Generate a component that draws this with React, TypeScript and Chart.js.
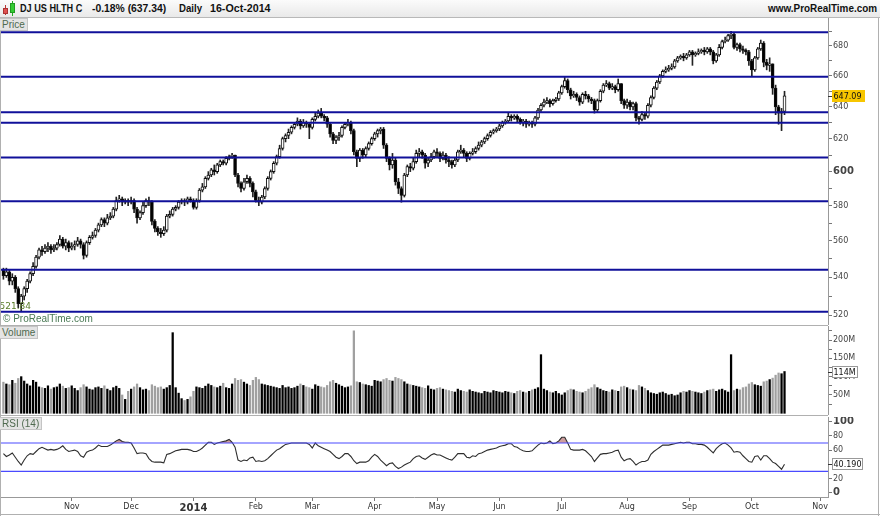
import React, { useEffect, useRef } from 'react';
import { Chart, registerables } from 'chart.js';

Chart.register(...registerables);

// ---------- DATA ----------
const opens = [544,541,543,538,540,534,526,530,534,538, 542,546,551,555,554,556,557,555,556,558, 561,557,559,556,557,558,560,558,552,559, 562,563,566,569,572,570,573,574,578,583, 584,582,583,582,583,578,573,576,580,583, 582,571,567,565,564,566,574,575,578,579, 582,583,582,584,583,579,583,589,591,596, 598,601,600,604,606,605,608,609,610,598, 593,590,594,596,593,588,583,582,585,590, 596,600,605,609,614,620,622,624,627,629, 631,628,630,629,627,632,634,636,634,633, 629,623,619,621,622,627,629,630,625,612, 608,613,610,614,617,620,623,625,626,616, 608,604,607,594,590,586,598,603,602,606, 611,612,610,605,607,609,612,611,608,610, 607,606,604,607,612,613,611,608,611,612, 614,616,618,620,622,624,625,626,628,630, 631,634,633,634,632,630,631,629,630,629, 633,638,641,643,644,642,644,645,649,653, 657,651,647,648,646,643,648,647,645,644, 638,644,650,654,655,652,653,651,655,644, 641,643,640,642,633,632,635,634,641,646, 652,656,660,663,664,665,666,670,672,673, 672,674,676,674,675,676,677,676,678,676, 670,674,679,683,684,687,688,679,681,678, 677,676,670,664,672,678,682,669,667,668, 652,640,636,637];
const highs = [545,545,544,542,541,535,531,535,539,543, 548,552,556,557,558,559,558,558,559,563, 562,561,560,559,560,562,561,559,560,563, 565,567,570,573,573,575,576,579,585,586, 585,584,584,585,584,579,577,582,584,585, 583,572,568,567,568,575,577,579,580,583, 584,584,585,585,584,584,590,593,597,600, 602,604,605,607,607,609,610,611,610,599, 594,596,598,597,594,589,585,586,591,597, 601,606,610,616,621,623,626,628,630,633, 632,632,631,630,633,636,638,639,635,634, 630,624,622,624,628,630,632,631,626,613, 614,614,615,618,621,624,626,627,627,617, 609,611,608,596,591,599,604,605,608,613, 614,613,611,608,611,613,614,612,612,611, 609,607,608,613,616,614,612,612,614,615, 618,619,621,623,625,626,627,629,631,632, 636,635,635,635,633,632,632,631,631,634, 639,642,645,646,645,645,646,650,654,659, 658,652,650,649,647,649,650,648,646,645, 645,651,655,657,656,655,654,658,655,645, 645,644,643,643,634,637,636,642,647,653, 657,661,664,666,667,668,671,673,674,675, 675,677,677,676,678,678,679,679,679,677, 675,681,684,686,688,690,689,682,682,680, 678,677,671,673,679,684,683,671,672,668, 654,641,639,650];
const lows = [539,540,536,536,532,524,521.84,528,532,537, 541,545,550,552,553,554,553,554,555,557, 556,555,554,555,555,557,556,550,551,558, 561,562,565,568,568,569,572,573,577,582, 580,581,580,581,576,570,572,575,579,580, 569,565,563,562,563,565,573,574,577,578, 581,580,581,582,578,578,582,588,590,595, 597,598,599,603,604,604,607,608,597,591, 588,589,593,591,585,582,580,581,584,589, 595,599,604,608,613,618,620,623,626,628, 626,627,627,620,626,631,633,633,631,627, 621,617,617,619,621,626,628,623,610,603, 606,608,609,613,616,619,621,623,614,606, 601,602,592,587,582,585,597,600,601,605, 609,608,602,603,606,608,609,606,607,605, 603,602,603,606,611,609,606,607,610,611, 613,615,617,619,621,623,624,625,627,629, 630,631,632,630,629,628,627,628,627,628, 632,637,640,642,640,641,643,644,648,652, 649,645,646,644,641,642,645,643,642,636, 637,643,649,653,651,651,649,650,642,639, 639,638,638,631,629,631,632,633,640,645, 651,655,659,662,663,664,665,669,671,670, 671,673,667,673,674,675,674,675,674,668, 669,673,678,682,683,685,678,677,676,675, 674,667,660,663,671,677,666,664,663,648, 635,629,625,635];
const closes = [541,543,538,540,534,526,530,534,538,542, 546,551,555,554,556,557,555,556,558,561, 557,559,556,557,558,560,558,552,559,562, 563,566,569,572,570,573,574,578,583,584, 582,583,582,583,578,573,576,580,583,582, 571,567,565,564,566,574,575,578,579,582, 583,582,584,583,579,583,589,591,596,598, 601,600,604,606,605,608,609,610,598,593, 590,594,596,593,588,583,582,585,590,596, 600,605,609,614,620,622,624,627,629,631, 628,630,629,627,632,634,636,634,633,629, 623,619,621,622,627,629,630,625,612,608, 613,610,614,617,620,623,625,626,616,608, 604,607,594,590,586,598,603,602,606,611, 612,610,605,607,609,612,611,608,610,607, 606,604,607,612,613,611,608,611,612,614, 616,618,620,622,624,625,626,628,630,631, 634,633,634,632,630,631,629,630,629,633, 638,641,643,644,642,644,645,649,653,657, 651,647,648,646,643,648,647,645,644,638, 644,650,654,655,652,653,651,655,644,641, 643,640,642,633,632,635,634,641,646,652, 656,660,663,664,665,666,670,672,673,672, 674,676,674,675,676,677,676,678,676,670, 674,679,683,684,687,688,679,681,678,677, 676,670,664,672,678,682,669,667,668,652, 640,636,637,647.09];
// volume in millions
const volumes = [85,80,78,90,82,95,100,88,80,75, 90,85,72,70,68,75,66,70,72,80, 74,68,70,75,68,62,70,78,72,66, 64,70,72,68,75,66,62,70,74,68, 50,38,60,66,72,80,70,64,66,62, 78,74,70,72,66,70,76,220,70,55, 40,35,38,45,60,72,70,68,74,80, 76,72,70,74,82,70,68,80,95,90, 92,85,80,76,90,98,92,80,78,76, 74,72,70,68,76,70,72,68,70,74, 80,76,72,70,66,78,74,72,70,76, 86,90,82,78,74,70,72,75,225,86, 84,80,78,76,74,90,88,86,92,95, 90,88,98,95,92,86,80,78,76,74, 72,70,68,75,66,64,68,70,66,64, 62,60,58,66,62,60,58,64,60,58, 56,54,60,58,56,62,60,58,56,60, 58,56,54,60,62,58,56,60,64,66, 70,160,66,62,58,56,60,54,50,56, 62,66,64,60,58,56,60,66,70,78, 70,66,62,60,58,64,62,60,72,74, 70,66,64,62,76,72,68,62,56,54, 52,56,58,54,50,52,48,50,56,60, 58,62,60,58,56,54,58,62,64,66, 60,64,66,62,58,160,62,66,64,70, 72,80,84,78,76,74,86,88,92,96, 104,110,108,114];
const rsiValues = [55,51,53,56,50,44,39,46,52,55, 54,58,62,64,62,60,61,60,61,63, 66,61,58,59,60,58,52,50,57,59, 60,63,67,65,65,65,67,70,73,75, 72,71,71,70,63,55,56,56,55,48, 44,43,43,43,42,54,55,57,59,60, 61,61,61,60,58,58,60,63,67,71, 71,68,70,71,72,73,75,71,64,46, 44,46,45,49,50,44,45,44,45,48, 52,56,60,62,65,68,69,70,70,70, 70,70,70,68,63,70,66,64,62,60, 58,54,50,48,51,55,55,51,45,41, 43,43,43,45,50,54,51,46,42,38, 41,42,37,34,36,39,41,43,48,51, 52,49,47,50,53,55,53,53,51,49, 47,46,50,55,55,55,50,49,52,51, 55,56,58,60,61,62,63,65,66,67, 69,69,65,64,61,59,58,58,59,63, 67,70,69,70,73,69,70,73,78,78, 70,61,60,60,60,61,59,55,51,44, 49,54,55,55,56,57,59,60,50,45, 47,48,44,39,42,44,44,46,54,58, 61,64,67,67,67,68,69,70,71,70, 71,71,69,69,68,68,67,64,60,56, 62,66,69,70,67,63,57,58,57,52, 48,44,43,51,52,46,52,52,48,43, 41,37,33,40.19];

const levels = [689.4, 659.5, 636.5, 630, 608.5, 582.5, 544.1, 521.84];
const rsiLevels = [70, 30];
const monthTickIndex = [23, 43, 64, 85, 104, 125, 146, 167, 188, 210, 231, 252, 275];
const monthLabels = ['Nov', 'Dec', '2014', 'Feb', 'Mar', 'Apr', 'May', 'Jun', 'Jul', 'Aug', 'Sep', 'Oct', 'Nov'];
const priceTicks = [520, 530, 540, 550, 560, 570, 580, 590, 600, 610, 620, 630, 640, 650, 660, 670, 680, 690];
const volumeTicks = [25, 50, 75, 100, 125, 150, 175, 200, 225];
const rsiTicks = [0, 20, 40, 60, 80, 100];

// ---------- STYLE ----------
const FONT = 'DejaVu Sans';
const X_MIN = -1.145;
const X_MAX = 277.64;
const AXIS_W = 52;
const TICK_COLOR = '#444';
const LINE_GRAY = '#999';

function xAxis(show: boolean): any {
  return {
    type: 'linear',
    min: X_MIN,
    max: X_MAX,
    offset: false,
    display: show,
    afterBuildTicks: (s: any) => { s.ticks = monthTickIndex.map((v) => ({ value: v })); },
    afterFit: (s: any) => {
      s.paddingLeft = 0; s.paddingRight = 0;
      s.height = show ? 18 : 0;
    },
    ticks: {
      autoSkip: false,
      maxRotation: 0,
      padding: 1,
      color: '#333',
      callback: (v: number) => {
        const k = monthTickIndex.indexOf(v);
        return k >= 0 ? monthLabels[k] : '';
      },
      font: (ctx: any) => (ctx.tick && ctx.tick.value === 64)
        ? { family: FONT, size: 10, weight: 'bold' }
        : { family: FONT, size: 8 },
    },
    grid: { display: true, drawOnChartArea: false, drawTicks: true, tickLength: 4, color: '#777', offset: false },
    border: { display: true, color: LINE_GRAY },
  };
}

function yAxis(type: string, min: number, max: number, tickVals: number[], label: (v: number) => string, boldVals: number[]): any {
  return {
    type,
    position: 'right',
    min,
    max,
    afterBuildTicks: (s: any) => { s.ticks = tickVals.filter((v) => v >= min && v <= max).map((v) => ({ value: v })); },
    afterFit: (s: any) => { s.width = AXIS_W; s.paddingTop = 0; s.paddingBottom = 0; },
    ticks: {
      autoSkip: false,
      padding: 1,
      color: TICK_COLOR,
      callback: (v: number) => label(v),
      font: (ctx: any) => (ctx.tick && boldVals.indexOf(ctx.tick.value) >= 0)
        ? { family: FONT, size: 10, weight: 'bold' }
        : { family: FONT, size: 8 },
    },
    grid: { display: true, drawOnChartArea: false, drawTicks: true, tickLength: 4, color: '#777' },
    border: { display: true, color: LINE_GRAY },
  };
}

const baseOptions: any = {
  animation: false,
  responsive: false,
  maintainAspectRatio: false,
  events: [],
  layout: { padding: 0 },
  plugins: { legend: { display: false }, tooltip: { enabled: false }, title: { display: false } },
};

function valueBox(ctx: CanvasRenderingContext2D, x: number, y: number, w: number, text: string, fill: string, stroke: string | null) {
  const yy = Math.round(y);
  ctx.save();
  ctx.fillStyle = fill;
  ctx.fillRect(x, yy - 6, w, 12);
  if (stroke) {
    ctx.strokeStyle = stroke;
    ctx.lineWidth = 1;
    ctx.strokeRect(x + 0.5, yy - 5.5, w - 1, 11);
  }
  ctx.strokeStyle = '#333';
  ctx.beginPath();
  ctx.moveTo(828, yy + 0.5);
  ctx.lineTo(832, yy + 0.5);
  ctx.stroke();
  ctx.fillStyle = '#111';
  ctx.font = `8px "${FONT}"`;
  ctx.textBaseline = 'middle';
  ctx.textAlign = 'left';
  ctx.fillText(text, x + 1.5, yy + 0.5);
  ctx.restore();
}

export default function App() {
  const priceRef = useRef<HTMLCanvasElement>(null);
  const volRef = useRef<HTMLCanvasElement>(null);
  const rsiRef = useRef<HTMLCanvasElement>(null);

  useEffect(() => {
    const n = closes.length;
    const last = n - 1;

    // ---- price ----
    const bodyColors = closes.map((c, i) => (c >= opens[i] ? '#ffffff' : '#000000'));
    const priceDecor = {
      id: 'priceDecor',
      afterDraw(chart: any) {
        const ctx = chart.ctx;
        const ys = chart.scales.y;
        const xs = chart.scales.x;
        valueBox(ctx, 832, ys.getPixelForValue(closes[last]), 33, closes[last].toFixed(2), '#f7c600', null);
        let li = 0;
        lows.forEach((v, i) => { if (v < lows[li]) li = i; });
        ctx.save();
        ctx.fillStyle = '#5a7d2a';
        ctx.font = `9px "${FONT}"`;
        ctx.textAlign = 'center';
        ctx.textBaseline = 'middle';
        ctx.fillText(lows[li].toFixed(2), xs.getPixelForValue(li) - 6, ys.getPixelForValue(lows[li]) - 5);
        ctx.restore();
      },
    };
    const priceChart = new Chart(priceRef.current!, {
      type: 'bar',
      data: {
        datasets: [
          ...levels.map((lv) => ({
            type: 'line' as const,
            data: [{ x: X_MIN, y: lv }, { x: X_MAX, y: lv }],
            borderColor: '#10109a',
            borderWidth: 2,
            pointRadius: 0,
            order: -1,
          })),
          {
            type: 'bar' as const,
            data: closes.map((c, i) => ({ x: i, y: [opens[i], c] })),
            backgroundColor: bodyColors,
            borderColor: '#111',
            borderWidth: 1,
            borderSkipped: false,
            barThickness: 3,
            minBarLength: 1,
            grouped: false,
            order: 0,
          },
          {
            type: 'bar' as const,
            data: closes.map((c, i) => ({ x: i, y: [lows[i], highs[i]] })),
            backgroundColor: '#222',
            borderWidth: 0,
            barThickness: 1,
            grouped: false,
            order: 1,
          },
        ] as any,
      },
      options: {
        ...baseOptions,
        scales: {
          x: xAxis(false),
          y: yAxis('logarithmic', 515.0, 699.2, priceTicks, (v) => (v % 20 === 0 ? String(v) : ''), [600]),
        },
      },
      plugins: [priceDecor],
    } as any);

    // ---- volume ----
    const volColors = closes.map((c, i) => (c >= (i > 0 ? closes[i - 1] : opens[i]) ? '#000000' : '#a0a0a0'));
    const volDecor = {
      id: 'volDecor',
      afterDraw(chart: any) {
        valueBox(chart.ctx, 832, chart.scales.y.getPixelForValue(volumes[last]), 26, Math.round(volumes[last]) + 'M', '#ffffff', '#999');
      },
    };
    const volChart = new Chart(volRef.current!, {
      type: 'bar',
      data: {
        datasets: [{
          data: volumes.map((v, i) => ({ x: i, y: v })),
          backgroundColor: volColors,
          borderWidth: 0,
          barThickness: 1.6,
          grouped: false,
        }],
      },
      options: {
        ...baseOptions,
        scales: {
          x: xAxis(false),
          y: yAxis('linear', -4.64, 238.2, volumeTicks, (v) => (v % 50 === 0 ? v + 'M' : ''), []),
        },
      },
      plugins: [volDecor],
    } as any);

    // ---- RSI ----
    const rsiDecor = {
      id: 'rsiDecor',
      afterDatasetsDraw(chart: any) {
        const ctx = chart.ctx;
        const ys = chart.scales.y;
        const area = chart.chartArea;
        ctx.save();
        ctx.strokeStyle = '#4a4aff';
        ctx.lineWidth = 1.2;
        rsiLevels.forEach((lv) => {
          const py = ys.getPixelForValue(lv);
          ctx.beginPath();
          ctx.moveTo(area.left, py);
          ctx.lineTo(area.right, py);
          ctx.stroke();
        });
        ctx.restore();
      },
      afterDraw(chart: any) {
        valueBox(chart.ctx, 832, chart.scales.y.getPixelForValue(rsiValues[last]), 31, rsiValues[last].toFixed(3), '#ffffff', '#999');
      },
    };
    const rsiChart = new Chart(rsiRef.current!, {
      type: 'line',
      data: {
        datasets: [
          {
            data: rsiValues.map((v, i) => ({ x: i, y: v })),
            borderColor: '#2e2e2e',
            borderWidth: 1.1,
            pointRadius: 0,
            tension: 0,
            fill: { target: { value: 70 }, above: 'rgba(190,125,125,0.75)', below: 'rgba(0,0,0,0)' },
          },
        ],
      },
      options: {
        ...baseOptions,
        scales: {
          x: xAxis(true),
          y: yAxis('linear', -6.06, 106.6, rsiTicks, (v) => (v === 40 ? '' : String(v)), [0, 100]),
        },
      },
      plugins: [rsiDecor],
    } as any);

    return () => { priceChart.destroy(); volChart.destroy(); rsiChart.destroy(); };
  }, []);

  const paneLabel = (text: string, top: number) => (
    <div style={{
      position: 'absolute', left: 0, top, height: 11, padding: '0 2px',
      background: '#e4e4e4', border: '1px solid #c4c4c4', borderLeft: 'none',
      color: '#4f6a4f', font: '10px "Liberation Sans", sans-serif', lineHeight: '11px', whiteSpace: 'nowrap',
    }}>{text}</div>
  );
  const hText = (text: string, left: number, sx: number) => (
    <span style={{ position: 'absolute', left, top: 0, lineHeight: '17px', transform: `scaleX(${sx})`, transformOrigin: 'left center', whiteSpace: 'nowrap' }}>{text}</span>
  );

  return (
    <div style={{ position: 'fixed', left: 0, top: 0, width: 880, height: 516, background: '#fff', overflow: 'hidden' }}>
      {/* header */}
      <div style={{
        position: 'absolute', left: 0, top: 0, width: 880, height: 18, boxSizing: 'border-box',
        background: 'linear-gradient(#fbfbfb, #e9e9e9)', borderBottom: '1px solid #b8b8b8',
        font: 'bold 11px "Liberation Sans", sans-serif', color: '#111',
      }}>
        <div style={{ position: 'absolute', left: 5, top: 5, width: 1, height: 10, background: '#b33' }} />
        <div style={{ position: 'absolute', left: 3, top: 8, width: 5, height: 6, background: '#e05050', border: '1px solid #a33', boxSizing: 'border-box' }} />
        <div style={{ position: 'absolute', left: 12, top: 1, width: 1, height: 15, background: '#2a2' }} />
        <div style={{ position: 'absolute', left: 10, top: 3, width: 5, height: 10, background: '#3c3', border: '1px solid #292', boxSizing: 'border-box' }} />
        {hText('DJ US HLTH C', 20, 0.83)}
        {hText('-0.18% (637.34)', 92, 0.94)}
        {hText('Daily', 179, 0.875)}
        {hText('16-Oct-2014', 210, 0.97)}
        <span style={{ position: 'absolute', right: 3, top: 0, lineHeight: '17px', transform: 'scaleX(0.9)', transformOrigin: 'right center', whiteSpace: 'nowrap' }}>www.ProRealTime.com</span>
      </div>

      <canvas ref={priceRef} width={880} height={307} style={{ position: 'absolute', left: 0, top: 18 }} />
      <canvas ref={volRef} width={880} height={89} style={{ position: 'absolute', left: 0, top: 326 }} />
      <canvas ref={rsiRef} width={880} height={98} style={{ position: 'absolute', left: 0, top: 417 }} />

      {/* panel separators and frame */}
      <div style={{ position: 'absolute', left: 0, top: 325, width: 828, height: 1, background: '#b0b0b0' }} />
      <div style={{ position: 'absolute', left: 0, top: 415, width: 828, height: 1, background: '#b0b0b0' }} />
      <div style={{ position: 'absolute', left: 0, top: 18, width: 1, height: 498, background: '#b0b0b0' }} />
      <div style={{ position: 'absolute', left: 878, top: 18, width: 1, height: 498, background: '#b0b0b0' }} />
      <div style={{ position: 'absolute', left: 0, top: 514, width: 880, height: 1, background: '#b0b0b0' }} />

      {paneLabel('Price', 18)}
      {paneLabel('Volume', 326)}
      {paneLabel('RSI (14)', 417)}
      <div style={{ position: 'absolute', left: 3, top: 313, font: '10px "Liberation Sans", sans-serif', color: '#4a7a55', lineHeight: '11px' }}>© ProRealTime.com</div>
    </div>
  );
}
